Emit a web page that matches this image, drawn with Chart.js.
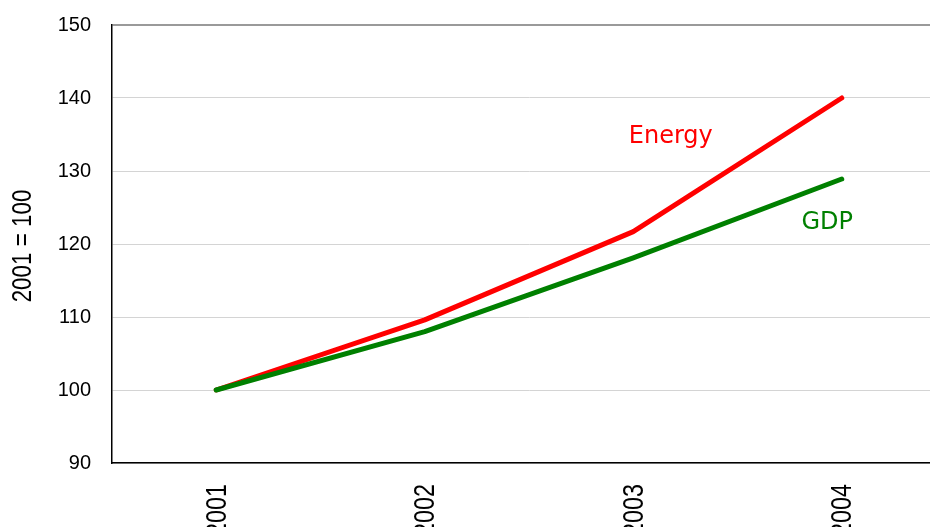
<!DOCTYPE html>
<html>
<head>
<meta charset="utf-8">
<script src="https://cdn.jsdelivr.net/npm/chart.js@4/dist/chart.umd.min.js"></script>
<style>
  html, body { margin: 0; padding: 0; background: #fff; overflow: hidden; width: 930px; height: 527px; }
  #wrap { width: 950px; height: 527px; position: relative; }
</style>
</head>
<body>
<div id="wrap"><canvas id="c"></canvas></div>
<script>
const years = ['2001', '2002', '2003', '2004'];
const energy = [100, 109.6, 121.7, 140];
const gdp = [100, 108, 118.1, 128.9];
const yTicks = [90, 100, 110, 120, 130, 140, 150];
const yTitle = '2001 = 100';
const seriesLabels = [
  { text: 'Energy', x: 2.18, y: 133.8, color: '#ff0000' },
  { text: 'GDP', x: 2.93, y: 122.1, color: '#008000' }
];

// Condensed text drawing (narrow font not installed)
const textPlugin = {
  id: 'customText',
  afterDraw(chart) {
    const ctx = chart.ctx;
    const xs = chart.scales.x, ys = chart.scales.y;
    ctx.save();
    ctx.fillStyle = '#000';
    ctx.font = '30px "Liberation Sans", Arial, sans-serif';
    ctx.textAlign = 'right';
    ctx.textBaseline = 'middle';
    years.forEach((y, i) => {
      const px = xs.getPixelForValue(i);
      ctx.save();
      ctx.translate(px + 1, xs.top + 21);
      ctx.rotate(-Math.PI / 2);
      ctx.scale(0.78, 1);
      ctx.fillText(y, 0, 0);
      ctx.restore();
    });
    ctx.font = '28px "Liberation Sans", Arial, sans-serif';
    ctx.textAlign = 'center';
    ctx.save();
    ctx.translate(23, (ys.top + ys.bottom) / 2 + 2);
    ctx.rotate(-Math.PI / 2);
    ctx.scale(0.8, 1);
    ctx.fillText(yTitle, 0, 0);
    ctx.restore();
    ctx.font = '24px "DejaVu Sans", sans-serif';
    ctx.textAlign = 'center';
    ctx.textBaseline = 'alphabetic';
    seriesLabels.forEach(l => {
      const i0 = Math.floor(l.x), f = l.x - i0;
      const px = xs.getPixelForValue(i0) * (1 - f) + xs.getPixelForValue(i0 + 1) * f;
      ctx.fillStyle = l.color;
      ctx.fillText(l.text, px, ys.getPixelForValue(l.y));
    });
    ctx.restore();
  }
};

new Chart(document.getElementById('c'), {
  type: 'line',
  data: {
    labels: years,
    datasets: [
      { label: 'GDP', data: gdp, borderColor: '#008000', borderWidth: 5, pointRadius: 0, borderCapStyle: 'round', borderJoinStyle: 'round', tension: 0, fill: false },
      { label: 'Energy', data: energy, borderColor: '#ff0000', borderWidth: 5, pointRadius: 0, borderCapStyle: 'round', borderJoinStyle: 'round', tension: 0, fill: false }
    ]
  },
  options: {
    responsive: true,
    maintainAspectRatio: false,
    animation: false,
    layout: { padding: { top: 25, left: 0, right: 4, bottom: 0 } },
    plugins: { legend: { display: false }, tooltip: { enabled: false } },
    scales: {
      x: {
        type: 'category',
        offset: true,
        grid: { display: false, drawTicks: false },
        border: { display: true, color: '#000', width: 1.5 },
        ticks: { display: false },
        afterFit(scale) { scale.height = 64; scale.paddingLeft = 0; scale.paddingRight = 0; }
      },
      y: {
        min: 90, max: 150,
        afterBuildTicks(scale) { scale.ticks = yTicks.map(v => ({ value: v })); },
        grid: {
          drawTicks: false,
          color: ctx => (ctx.tick && ctx.tick.value === 150) ? '#9a9a9a' : '#d4d4d4',
          lineWidth: ctx => (ctx.tick && ctx.tick.value === 150) ? 2 : 1
        },
        border: { display: true, color: '#000', width: 1.5 },
        ticks: {
          color: '#000',
          font: { family: '"Liberation Sans", Arial, sans-serif', size: 20 },
          padding: 21
        },
        title: { display: false },
        afterFit(scale) { scale.width = 112; scale.paddingTop = 0; scale.paddingBottom = 0; }
      }
    }
  },
  plugins: [textPlugin]
});
</script>
</body>
</html>
